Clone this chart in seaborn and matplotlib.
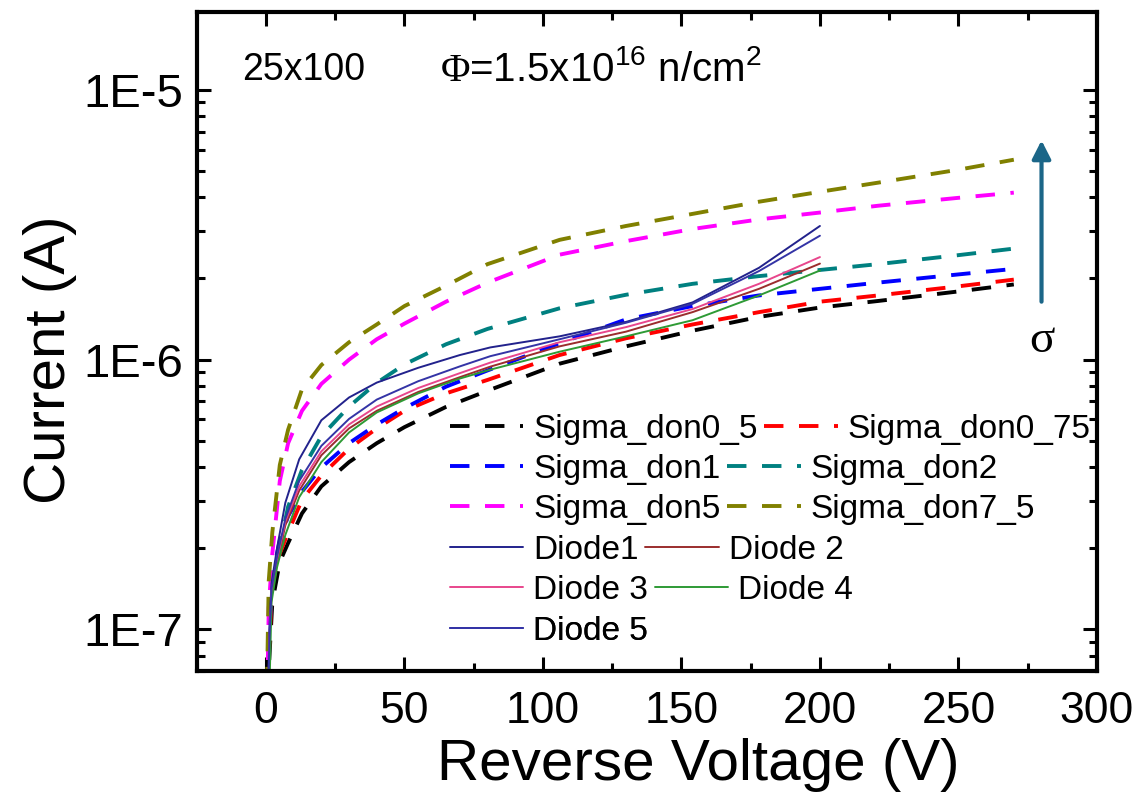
import numpy as np
import pandas as pd
import matplotlib
matplotlib.use("Agg")
import matplotlib.pyplot as plt
import seaborn as sns
from matplotlib.lines import Line2D
from matplotlib.ticker import LogLocator, NullFormatter, MultipleLocator

# ---- simulated IV curves (reverse voltage in V, current in A) ----
sim_voltage = [0.05, 0.3, 1, 2.3, 5, 8, 13, 20, 30, 40, 50, 65, 80, 106, 130,
               154, 178, 200, 221, 250, 270]
sigma_don0_5 = [1.26e-8, 2.82e-8, 7.08e-8, 1.26e-7, 1.78e-7, 2.09e-7, 2.69e-7,
                3.39e-7, 4.17e-7, 4.90e-7, 5.62e-7, 6.68e-7, 7.67e-7, 9.66e-7,
                1.12e-6, 1.28e-6, 1.44e-6, 1.56e-6, 1.65e-6, 1.79e-6, 1.90e-6]
sigma_don0_75 = [1.41e-8, 3.16e-8, 7.94e-8, 1.48e-7, 1.91e-7, 2.29e-7, 3.02e-7,
                 3.72e-7, 4.68e-7, 5.56e-7, 6.46e-7, 7.50e-7, 8.41e-7, 1.04e-6,
                 1.20e-6, 1.35e-6, 1.50e-6, 1.64e-6, 1.73e-6, 1.87e-6, 1.98e-6]
sigma_don1 = [1.58e-8, 3.55e-8, 8.91e-8, 1.58e-7, 2.14e-7, 2.63e-7, 3.24e-7,
              3.98e-7, 4.90e-7, 5.75e-7, 6.61e-7, 7.94e-7, 9.12e-7, 1.15e-6,
              1.41e-6, 1.58e-6, 1.73e-6, 1.83e-6, 1.93e-6, 2.07e-6, 2.17e-6]
sigma_don2 = [1.78e-8, 3.98e-8, 1.00e-7, 1.51e-7, 2.04e-7, 2.85e-7, 3.90e-7,
              5.20e-7, 6.70e-7, 8.20e-7, 9.60e-7, 1.14e-6, 1.30e-6, 1.55e-6,
              1.74e-6, 1.91e-6, 2.04e-6, 2.15e-6, 2.26e-6, 2.44e-6, 2.58e-6]
sigma_don5 = [2.00e-8, 4.47e-8, 1.20e-7, 1.91e-7, 3.55e-7, 4.90e-7, 6.46e-7,
              8.13e-7, 1.00e-6, 1.19e-6, 1.36e-6, 1.64e-6, 1.93e-6, 2.45e-6,
              2.75e-6, 3.05e-6, 3.31e-6, 3.51e-6, 3.72e-6, 3.98e-6, 4.16e-6]
sigma_don7_5 = [2.51e-8, 5.62e-8, 1.51e-7, 2.29e-7, 4.07e-7, 5.50e-7, 7.76e-7,
                9.55e-7, 1.16e-6, 1.35e-6, 1.58e-6, 1.88e-6, 2.26e-6, 2.78e-6,
                3.13e-6, 3.47e-6, 3.85e-6, 4.19e-6, 4.53e-6, 5.06e-6, 5.51e-6]

# ---- measured diodes ----
dev_voltage = [0.5, 1.2, 2, 4, 7, 12, 20, 30, 40, 55, 70, 81, 106, 130, 154,
               178, 200]
diode1 = [3.98e-8, 1.00e-7, 1.48e-7, 2.00e-7, 2.95e-7, 4.27e-7, 5.96e-7,
          7.24e-7, 8.22e-7, 9.33e-7, 1.04e-6, 1.11e-6, 1.22e-6, 1.38e-6,
          1.63e-6, 2.19e-6, 3.13e-6]
diode2 = [3.39e-8, 8.51e-8, 1.33e-7, 1.76e-7, 2.43e-7, 3.27e-7, 4.42e-7,
          5.56e-7, 6.46e-7, 7.59e-7, 8.61e-7, 9.42e-7, 1.12e-6, 1.27e-6,
          1.50e-6, 1.83e-6, 2.27e-6]
diode3 = [3.55e-8, 8.91e-8, 1.38e-7, 1.82e-7, 2.51e-7, 3.39e-7, 4.57e-7,
          5.75e-7, 6.70e-7, 7.85e-7, 8.91e-7, 9.75e-7, 1.16e-6, 1.32e-6,
          1.54e-6, 1.91e-6, 2.40e-6]
diode4 = [1.58e-8, 5.62e-8, 1.26e-7, 1.70e-7, 2.24e-7, 3.09e-7, 4.17e-7,
          5.37e-7, 6.37e-7, 7.50e-7, 8.51e-7, 9.18e-7, 1.07e-6, 1.22e-6,
          1.40e-6, 1.73e-6, 2.14e-6]
diode5 = [3.55e-8, 8.91e-8, 1.41e-7, 1.86e-7, 2.57e-7, 3.55e-7, 4.79e-7,
          6.03e-7, 7.11e-7, 8.32e-7, 9.44e-7, 1.03e-6, 1.19e-6, 1.37e-6,
          1.61e-6, 2.13e-6, 2.88e-6]

sim_names = ["Sigma_don0_5", "Sigma_don0_75", "Sigma_don1", "Sigma_don2",
             "Sigma_don5", "Sigma_don7_5"]
sim_values = [sigma_don0_5, sigma_don0_75, sigma_don1, sigma_don2,
              sigma_don5, sigma_don7_5]
sim_colors = ["#000000", "#ff0000", "#0000ff", "#008080", "#ff00ff", "#808000"]

dev_names = ["Diode1", "Diode 2", "Diode 3", "Diode 4", "Diode 5"]
dev_values = [diode1, diode2, diode3, diode4, diode5]
dev_colors = ["#22228c", "#9b2d2d", "#e8468c", "#2e9a35", "#3434a6"]

sim_df = pd.concat([pd.DataFrame({"V": sim_voltage, "I": v, "series": n})
                    for n, v in zip(sim_names, sim_values)], ignore_index=True)
dev_df = pd.concat([pd.DataFrame({"V": dev_voltage, "I": v, "series": n})
                    for n, v in zip(dev_names, dev_values)], ignore_index=True)

sns.set_theme(style="ticks")
plt.rcParams["font.family"] = ["Liberation Sans", "DejaVu Sans"]
plt.rcParams["mathtext.fontset"] = "custom"
plt.rcParams["mathtext.rm"] = "Liberation Sans"
plt.rcParams["mathtext.sf"] = "Liberation Serif"
for key in ["text.color", "axes.labelcolor", "xtick.color", "ytick.color",
            "axes.edgecolor"]:
    plt.rcParams[key] = "black"

fig = plt.figure(figsize=(11.45, 7.99), dpi=100)
ax = fig.add_axes([0.1718, 0.160, 0.7862, 0.8254])

DASH = (5, 4)
sns.lineplot(data=sim_df, x="V", y="I", hue="series", style="series",
             hue_order=sim_names, style_order=sim_names,
             palette=dict(zip(sim_names, sim_colors)),
             dashes={n: DASH for n in sim_names},
             linewidth=2.8, sort=False, estimator=None, legend=False, ax=ax)
sns.lineplot(data=dev_df, x="V", y="I", hue="series", hue_order=dev_names,
             palette=dict(zip(dev_names, dev_colors)),
             linewidth=1.4, sort=False, estimator=None, legend=False, ax=ax)

ax.set_yscale("log")
ax.set_xlim(-25, 300)
ax.set_ylim(7e-8, 1.95e-5)

ax.xaxis.set_major_locator(MultipleLocator(50))
ax.xaxis.set_minor_locator(MultipleLocator(25))
ax.set_yticks([1e-7, 1e-6, 1e-5])
ax.set_yticklabels(["1E-7", "1E-6", "1E-5"])
ax.yaxis.set_minor_locator(LogLocator(base=10, subs=np.arange(2, 10), numticks=30))
ax.yaxis.set_minor_formatter(NullFormatter())

for s in ax.spines.values():
    s.set_linewidth(3.0)
    s.set_color("black")
ax.tick_params(which="both", direction="in", top=True, right=True,
               width=2.2, color="black", labelcolor="black")
ax.tick_params(which="major", length=10)
ax.tick_params(which="minor", length=6)
ax.tick_params(axis="x", which="major", pad=14, labelsize=32)
ax.tick_params(axis="y", which="major", pad=10, labelsize=34)

ax.set_xlabel("Reverse Voltage (V)", fontsize=42)
ax.set_ylabel("Current (A)", fontsize=42)
ax.xaxis.set_label_coords(0.557, -0.143)
ax.xaxis.label.set_verticalalignment("center")
ax.yaxis.set_label_coords(-0.163, 0.472)
ax.yaxis.label.set_verticalalignment("center")

ax.text(-8.6, 1.19e-5, "25x100", fontsize=27, ha="left", va="center")
ax.text(62.7, 1.19e-5, r"$\mathsf{\Phi}$=1.5x10$^{16}$ n/cm$^{2}$",
        fontsize=29, ha="left", va="center")

# direction of increasing donor cross-section
ax.annotate("", xy=(280, 6.5e-6), xytext=(280, 1.64e-6),
            arrowprops=dict(arrowstyle="-|>,head_length=0.55,head_width=0.28",
                            lw=3, color="#1b6688", mutation_scale=20,
                            shrinkA=0, shrinkB=0))
ax.text(280, 1.17e-6, "σ", family="Liberation Serif", fontsize=34,
        ha="center", va="center")

# legend laid out row by row
handles = {}
for n, c in zip(sim_names, sim_colors):
    handles[n] = Line2D([], [], color=c, lw=2.8, dashes=DASH)
for n, c in zip(dev_names, dev_colors):
    handles[n] = Line2D([], [], color=c, lw=1.4)
rows = [["Sigma_don0_5", "Sigma_don0_75"], ["Sigma_don1", "Sigma_don2"],
        ["Sigma_don5", "Sigma_don7_5"], ["Diode1", "Diode 2"],
        ["Diode 3", "Diode 4"], ["Diode 5"]]
row_y = [0.367, 0.3064, 0.2457, 0.1835, 0.1229, 0.0607]
for names, yy in zip(rows, row_y):
    leg = ax.legend([handles[n] for n in names], names, loc="center left",
                    bbox_to_anchor=(0.2813, yy), ncol=len(names),
                    frameon=False, fontsize=24, handlelength=2.2,
                    handletextpad=0.3, columnspacing=0.2, borderpad=0,
                    borderaxespad=0)
    ax.add_artist(leg)

fig.savefig("out.png", dpi=100)
